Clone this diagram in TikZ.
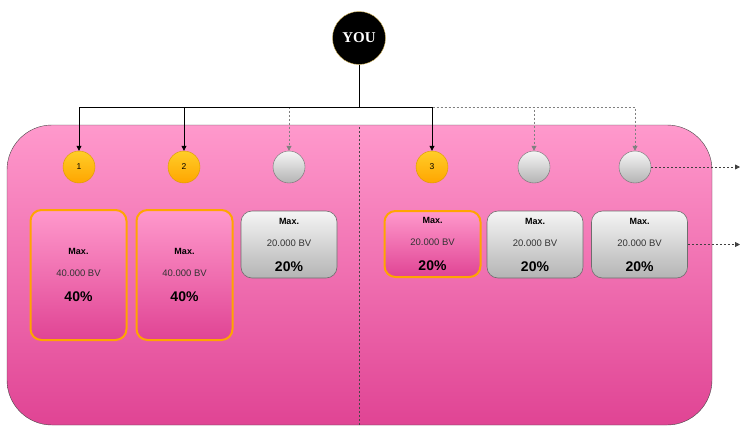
\documentclass[tikz,border=0pt]{standalone}
\usepackage{fontspec}
\setmainfont{Liberation Sans}
\newfontfamily\youfont{Liberation Serif}
\usepackage{tikz}
\usetikzlibrary{shapes, arrows.meta, calc, positioning}

\definecolor{pinktop}{RGB}{255,153,204}
\definecolor{pinkbot}{RGB}{224,68,148}
\definecolor{pinkedge}{RGB}{70,70,70}
\definecolor{orangeline}{RGB}{255,165,0}
\definecolor{ambertop}{RGB}{255,205,40}
\definecolor{amberbot}{RGB}{255,165,0}
\definecolor{amberedge}{RGB}{215,155,0}
\definecolor{greytop}{RGB}{245,245,245}
\definecolor{greybot}{RGB}{180,180,180}
\definecolor{greyedge}{RGB}{110,110,110}
\definecolor{youedge}{RGB}{214,182,86}
\definecolor{bvtext}{RGB}{51,51,51}

\tikzset{
  tip/.style={-{Triangle[width=5pt,length=5pt]}},
  link/.style={tip, black, line width=0.8pt},
  future/.style={tip, gray, line width=0.8pt, dash pattern=on 2pt off 2pt},
  slotfull/.style={circle, draw=amberedge, minimum size=32pt, inner sep=0pt,
    top color=ambertop, bottom color=amberbot, font=\fontsize{8.5}{9}\selectfont},
  slotempty/.style={circle, draw=greyedge, minimum size=32pt, inner sep=0pt,
    top color=greytop, bottom color=greybot},
  capbox/.style={rectangle, rounded corners=11pt, align=center, inner sep=0pt,
    minimum width=96pt, font=\fontsize{9.5}{10}\selectfont},
  capfull/.style={capbox, draw=orangeline, line width=2pt,
    top color=pinktop, bottom color=pinkbot},
  capempty/.style={capbox, draw=greyedge, line width=0.6pt,
    top color=greytop, bottom color=greybot}
}

\newcommand{\captext}[2]{{\bfseries\fontsize{9}{10}\selectfont Max.}\\[12pt]
  {\color{bvtext}#1 BV}\\[15pt]{\bfseries\fontsize{14}{10}\selectfont #2}}

\begin{document}
\begin{tikzpicture}[x=1pt, y=-1pt]
 \useasboundingbox (0,0) rectangle (743,426);

 % pink field
 \draw[pinkedge, top color=pinktop, bottom color=pinkbot, rounded corners=45pt]
   (7,125) rectangle (712,425);
 \draw[pinkedge, line width=0.8pt, dash pattern=on 2pt off 2pt] (359,127) -- (359,426);

 % you
 \node[circle, fill=black, draw=youedge, minimum size=53pt, inner sep=0pt,
   text=white, font=\youfont\bfseries\fontsize{15}{16}\selectfont] (you) at (359,38) {YOU};
 \coordinate (bus) at (359,107);

 % slots
 \node[slotfull] (s1) at (79,167) {1};
 \node[slotfull] (s2) at (184,167) {2};
 \node[slotempty] (s3) at (289,167) {};
 \node[slotfull] (s4) at (432,167) {3};
 \node[slotempty] (s5) at (534,167) {};
 \node[slotempty] (s6) at (635,167) {};

 % caps
 \node[capfull, minimum height=130pt] (b1) at (78.5,275) {\captext{40.000}{40\%}};
 \node[capfull, minimum height=130pt] (b2) at (184.5,275) {\captext{40.000}{40\%}};
 \node[capempty, minimum height=67pt] (b3) at (289,244.5) {\captext{20.000}{20\%}};
 \node[capfull, minimum height=66pt] (b4) at (432.5,244) {\captext{20.000}{20\%}};
 \node[capempty, minimum height=67pt] (b5) at (535,244.5) {\captext{20.000}{20\%}};
 \node[capempty, minimum height=67pt] (b6) at (639.5,244.5) {\captext{20.000}{20\%}};

 % lines
 \draw[future] (you.south) -- (bus) -| (s3.north);
 \draw[future] (you.south) -- (bus) -| (s5.north);
 \draw[future] (you.south) -- (bus) -| (s6.north);
 \draw[link] (you.south) -- (bus) -| (s1.north);
 \draw[link] (you.south) -- (bus) -| (s2.north);
 \draw[link] (you.south) -- (bus) -| (s4.north);

 \coordinate (out1) at (740,167);
 \coordinate (out2) at (740,244.5);
 \draw[future, darkgray] (s6.east) -- (out1);
 \draw[future, darkgray] (b6.east) -- (out2);
\end{tikzpicture}
\end{document}
